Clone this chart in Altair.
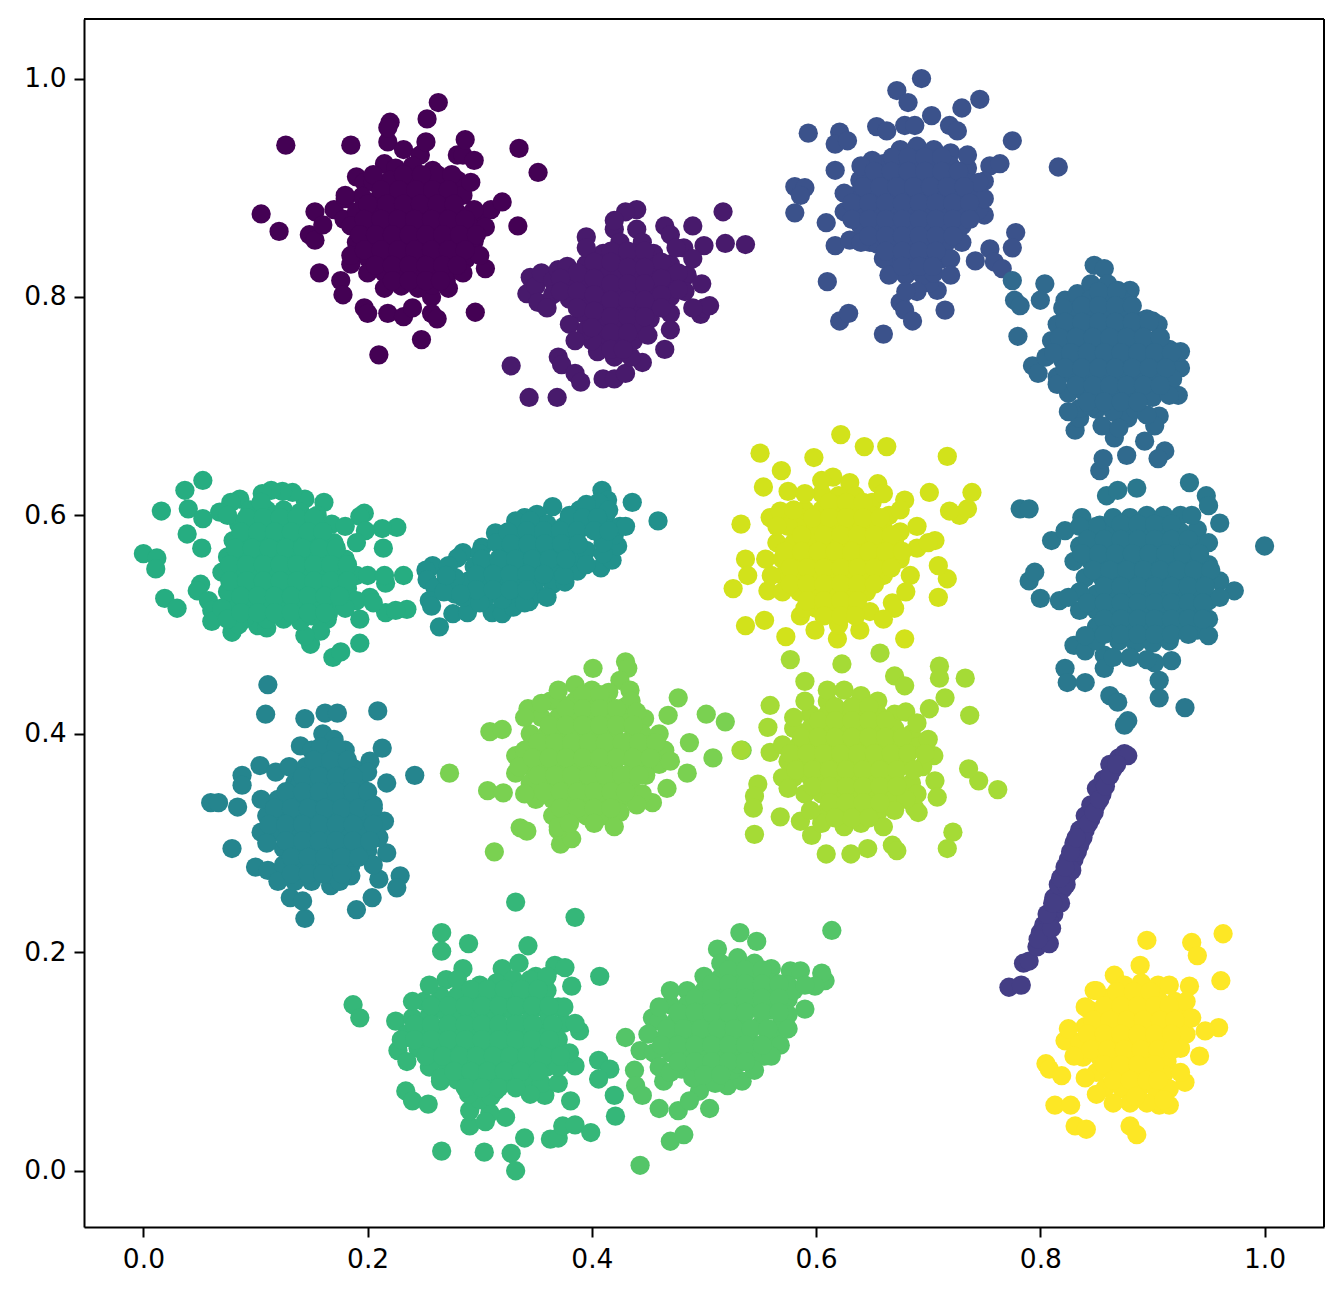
import altair as alt
import pandas as pd

# Points per cluster, in thousandths of the axis unit (x, y).
C0 = [(127,939),(185,939),(210,747),(105,876),(121,860),(148,857),(153,852),(153,878),(160,866),(157,822),(170,880),(176,815),(178,802),(179,871),(180,890),(185,830),(190,910),(197,905),(200,840),(197,790),(200,785),(215,922),(218,942),(218,785),(220,960),(218,955),(232,935),(232,782),(240,790),(247,930),(248,761),(252,942),(253,963),(263,978),(257,800),(257,785),(262,780),(270,815),(280,930),(285,930),(287,944),(295,925),(296,786),(300,870),(305,826),(310,880),(320,887),(335,936),(334,865),(352,914),
(225,918),(240,920),(258,916),(205,905),(220,907),(236,903),(250,906),(265,904),(280,907),(195,892),(210,890),(225,893),(240,890),(255,892),(270,890),(285,893),(190,878),(205,880),(220,877),(235,879),(250,876),(265,879),(280,877),(295,880),(185,865),(200,866),(215,864),(230,866),(245,864),(260,866),(275,863),(290,866),(305,864),(190,850),(205,852),(220,849),(235,851),(250,850),(265,852),(280,849),(295,851),(200,836),(215,838),(230,835),(245,837),(260,836),(275,838),(288,835),(215,822),(230,824),(245,821),(260,823),(272,822),(230,810),(245,808),(258,811),
(205,912),(262,912),(275,912),(200,822),(285,822),(215,808),(272,808),(180,893),(185,838),(300,838),(292,905)]
C1 = [(328,737),(344,708),(369,708),(370,745),(373,738),(385,730),(390,722),(410,725),(420,725),(430,730),(445,740),(465,752),(497,784),(500,790),(505,792),(519,849),(537,848),(500,847),(517,878),(490,865),(482,845),(465,865),(470,857),(440,880),(430,878),(420,862),(420,870),(395,855),(440,862),(345,818),(342,803),(350,810),(355,822),(352,795),
(365,815),(365,802),(370,825),(380,812),(380,798),(378,828),(395,830),(395,815),(395,800),(392,785),(410,840),(410,825),(410,810),(410,795),(410,780),(408,765),(405,750),(400,760),(425,850),(425,835),(425,820),(425,805),(425,790),(425,775),(422,760),(420,745),(435,745),(437,760),(440,775),(440,790),(440,805),(440,820),(440,835),(455,840),(455,825),(455,810),(455,795),(452,780),(470,830),(470,815),(470,800),(485,820),(483,805),(470,785),(490,790),(498,812),
(395,845),(445,850),(475,845),(360,790),(380,775),(470,770),(395,770),(450,765),(490,835),(385,760)]
C2 = [(772,168),(783,170),(785,190),(790,192),(797,205),(800,218),(808,208),(803,225),(812,235),(808,228),(815,245),(812,250),(820,258),(816,262),(825,272),(820,270),(830,285),(825,285),(835,298),(830,300),(840,312),(835,312),(845,322),(840,325),(850,335),(845,335),(855,345),(850,350),(860,360),(856,358),(865,368),(862,372),(870,378),(875,382),(878,380),
(818,245),(823,262),(828,275),(833,292),(838,305),(843,318),(848,328),(853,340),(858,352),(862,362),(868,372),(803,218),(798,212),(810,222),(806,235),(811,245),(818,268),(822,278),(827,292),(832,305)]
C3 = [(593,950),(621,951),(617,940),(628,943),(617,916),(581,901),(590,900),(586,893),(581,877),(609,868),(617,847),(610,814),(621,778),(629,785),(660,766),(675,795),(679,788),(686,778),(715,788),(708,806),(701,813),(672,989),(694,1000),(682,978),(703,966),(730,973),(746,981),(654,956),(663,952),(679,957),(688,957),(719,957),(726,952),(775,943),(816,919),(755,920),(764,922),(750,906),(750,875),(778,859),(775,845),(755,844),(742,833),(759,832),(766,826),(630,852),(639,907),(648,850),
(675,935),(690,938),(705,935),(720,932),(660,922),(675,922),(690,925),(705,922),(720,920),(735,918),(645,908),(660,908),(675,910),(690,910),(705,908),(720,906),(735,905),(635,893),(650,895),(665,893),(680,895),(695,893),(710,895),(725,892),(740,893),(625,878),(640,880),(655,878),(670,880),(685,878),(700,880),(715,878),(730,878),(745,880),(640,865),(655,863),(670,865),(685,863),(700,865),(715,863),(730,865),(655,848),(670,850),(685,848),(700,850),(715,848),(670,835),(685,835),(700,835),(712,835),(680,820),(695,820),(705,822),
(650,925),(735,930),(640,920),(750,890),(625,895),(640,850),(730,850),(660,835),(720,835),(665,820),(720,820),(655,905),(745,905),(690,805),(680,805)]
C4 = [(775,815),(777,797),(782,792),(780,764),(793,737),(798,730),(804,812),(800,797),(822,797),(833,803),(848,829),(857,826),(880,806),(869,806),(923,710),(906,691),(902,682),(911,659),(905,652),(877,655),(866,671),(853,641),(856,652),(831,678),(835,689),(878,689),(893,668),
(845,812),(860,812),(875,795),(860,798),(845,798),(830,785),(845,785),(860,785),(875,782),(890,778),(815,775),(830,770),(845,770),(860,770),(875,768),(890,765),(905,762),(810,760),(825,757),(840,755),(855,757),(870,755),(885,752),(900,750),(915,752),(805,745),(820,742),(835,742),(850,742),(865,740),(880,738),(895,738),(910,738),(925,735),(815,727),(830,727),(845,727),(860,725),(875,725),(890,723),(905,725),(918,725),(825,712),(840,712),(855,710),(870,710),(885,710),(900,708),(835,698),(850,697),(865,695),(885,697),(825,695),
(820,790),(815,720),(900,778),(895,692),(915,710),(845,700),(855,682),(870,680),(895,780),(905,775),(925,750)]
C5 = [(1000,572),(973,531),(782,606),(790,606),(790,540),(795,548),(800,524),(817,522),(810,577),(822,586),(837,598),(853,591),(859,618),(886,625),(869,623),(933,630),(948,618),(950,609),(960,593),(929,424),(906,433),(906,449),(917,467),(902,465),(862,435),(869,429),(878,412),(875,408),(822,460),(824,447),(840,447),(857,472),(857,460),(830,481),(840,476),
(880,598),(895,600),(910,600),(925,600),(865,585),(880,585),(895,587),(910,587),(925,585),(940,587),(835,572),(850,572),(865,572),(880,572),(895,573),(910,572),(925,572),(940,572),(830,558),(845,558),(860,558),(875,558),(890,558),(905,558),(920,558),(935,558),(950,555),(840,543),(855,543),(870,543),(885,543),(900,543),(915,543),(930,543),(945,543),(960,540),(850,528),(865,528),(880,528),(895,528),(910,528),(925,528),(940,528),(950,522),(835,513),(850,513),(865,513),(880,513),(895,513),(910,513),(925,513),(940,513),(950,505),(850,498),(865,498),(880,498),(895,498),(910,498),(925,498),(940,495),(850,485),(870,485),(885,483),(900,483),(915,485),(895,468),
(850,590),(865,598),(935,600),(950,575),(960,525),(835,530),(825,525),(840,490),(950,490),(865,470),(880,470),(835,590)]
C6 = [(111,445),(109,418),(144,414),(162,419),(173,419),(209,421),(213,387),(202,375),(217,355),(242,362),(60,337),(67,337),(84,333),(88,362),(88,353),(104,371),(79,295),(100,278),(111,275),(229,270),(217,291),(226,259),(210,267),(204,250),(190,239),(144,231),(131,250),(142,247),(167,261),(140,389),(118,365),(130,370),
(160,400),(170,395),(150,385),(165,382),(180,385),(145,370),(160,368),(175,370),(188,368),(135,355),(150,353),(165,355),(180,353),(195,350),(120,340),(135,340),(150,340),(165,340),(180,340),(195,338),(205,335),(110,325),(125,325),(140,325),(155,325),(170,325),(185,325),(200,322),(215,320),(105,310),(120,310),(135,310),(150,310),(165,310),(180,310),(195,308),(210,305),(125,295),(140,295),(155,295),(170,295),(185,295),(200,293),(125,280),(140,280),(155,280),(170,280),(185,280),(135,265),(150,265),(165,272),
(130,340),(110,300),(120,265),(205,280),(190,360),(200,365),(140,355),(105,340),(185,270),(175,265)]
C7 = [(459,595),(436,612),(409,623),(264,498),(258,554),(252,550),(253,541),(260,534),(255,522),(257,517),(276,510),(289,511),(311,511),(320,510),(330,516),(344,521),(351,528),(365,537),(376,539),(387,549),(408,552),(418,559),(423,572),(414,614),(406,612),(389,605),(365,608),(351,601),(340,598),(332,595),(314,584),(302,571),(285,566),(280,561),(272,554),
(290,525),(305,525),(320,523),(335,530),(290,540),(305,540),(320,538),(335,543),(350,540),(295,553),(310,553),(325,552),(340,555),(355,553),(370,550),(322,566),(337,568),(352,567),(367,563),(382,562),(335,580),(350,580),(365,577),(380,575),(395,568),(410,565),(360,592),(375,590),(390,588),(405,585),(420,582),(398,598),(412,598),(278,528),(278,543),(425,590),
(285,525),(268,530),(270,545),(300,520),(340,520),(300,565),(315,575),(325,585),(345,595),(360,525),(375,545),(395,555),(410,575),(395,610),(380,600),(415,605),(430,590)]
C8 = [(53,632),(37,623),(16,604),(40,606),(53,597),(39,583),(52,570),(0,565),(12,561),(11,551),(51,537),(48,531),(19,524),(30,515),(58,522),(61,513),(61,503),(79,493),(102,499),(110,497),(149,482),(169,470),(176,475),(193,483),(193,505),(216,511),(235,514),(232,545),(216,538),(214,570),(226,589),(213,588),(197,602),(193,599),(198,586),(168,592),(161,612),(144,615),(133,621),(124,622),(114,623),(106,620),(86,615),(78,612),(68,603),(202,525),(225,513),(164,505),(158,494),(144,490),
(95,605),(110,605),(125,605),(140,603),(85,592),(100,592),(115,592),(130,592),(145,590),(80,577),(95,577),(110,577),(125,577),(140,577),(155,577),(170,575),(75,562),(90,562),(105,562),(120,562),(135,562),(150,562),(165,562),(180,560),(70,548),(85,548),(100,548),(115,548),(130,548),(145,548),(160,548),(175,548),(190,545),(80,533),(95,533),(110,533),(125,533),(140,533),(155,533),(170,533),(182,533),(80,518),(95,518),(110,518),(125,518),(140,518),(155,518),(170,520),(190,522),(205,520),(90,505),(110,505),(125,505),(140,503),(150,508),
(75,600),(75,530),(70,515),(105,612),(155,600),(180,590),(190,575),(200,545),(215,545),(180,515),(165,510),(85,500),(75,505)]
C9 = [(332,246),(385,232),(266,218),(266,201),(290,208),(187,152),(193,140),(266,18),(304,17),(328,16),(332,0),(340,30),(363,29),(370,30),(374,41),(385,42),(399,35),(323,49),(309,53),(291,41),(234,73),(240,64),(254,61),(227,110),(225,137),(407,178),(382,169),(343,206),(367,188),(376,186),(406,101),(416,93),(406,84),(420,69),(421,50),(381,64),(358,69),(314,73),(265,82),(291,55),(389,128),(385,96),
(270,175),(285,185),(320,185),(335,190),(350,178),(300,170),(315,172),(330,175),(345,165),(360,165),(250,155),(265,160),(280,160),(295,157),(310,157),(325,160),(340,152),(355,150),(370,150),(240,140),(255,142),(270,145),(285,143),(300,143),(315,143),(330,145),(345,138),(360,136),(375,135),(235,125),(250,127),(265,128),(280,128),(295,128),(310,128),(325,128),(340,123),(355,122),(370,120),(245,112),(260,112),(275,113),(290,113),(305,113),(320,113),(335,110),(350,108),(365,108),(380,108),(270,98),(285,98),(300,98),(315,98),(330,95),(345,93),(360,95),(280,83),(295,84),(310,84),(325,82),(340,80),(355,80),(300,65),(305,45),(345,70),(370,80),
(240,155),(255,170),(230,120),(235,100),(255,95),(265,85),(375,150),(385,135),(370,95),(290,70),(310,68),(345,175),(360,178),(280,175)]
C10 = [(614,220),(608,174),(605,181),(532,218),(547,210),(512,203),(430,122),(443,5),(470,27),(482,33),(460,57),(464,82),(477,55),(505,57),(438,92),(439,78),(445,69),(443,110),(454,140),(521,78),(534,82),(496,73),(487,64),(590,148),(577,183),(586,183),(599,169),(554,105),
(515,190),(530,195),(545,190),(560,185),(500,178),(515,177),(530,180),(545,177),(560,172),(575,170),(485,165),(500,165),(515,165),(530,165),(545,163),(560,160),(575,157),(470,152),(485,152),(500,152),(515,150),(530,150),(545,150),(560,147),(575,143),(460,137),(475,137),(490,137),(505,137),(520,137),(535,135),(550,133),(565,130),(465,122),(480,122),(495,122),(510,122),(525,122),(540,120),(555,118),(568,115),(455,108),(470,108),(485,108),(500,108),(515,107),(530,105),(545,105),(480,93),(495,93),(510,93),(525,92),(530,98),(490,85),
(470,165),(460,150),(450,125),(460,95),(470,90),(575,130),(580,165),(590,170),(560,105),(545,92),(510,80)]
C11 = [(273,364),(313,292),(307,348),(321,346),(309,402),(320,404),(332,380),(332,364),(336,314),(342,311),(372,299),(382,304),(430,466),(432,460),(401,460),(477,433),(519,411),(502,418),(534,385),(508,378),(485,364),(467,350),(454,337),(487,392),(468,417),(447,414),(363,430),(343,423),(425,449),(434,440),
(385,445),(400,440),(415,438),(370,430),(385,430),(400,427),(415,425),(430,425),(355,415),(370,415),(385,415),(400,413),(415,412),(430,410),(445,400),(345,400),(360,400),(375,400),(390,400),(405,398),(420,398),(435,395),(450,390),(465,385),(340,385),(355,385),(370,385),(385,385),(400,383),(415,383),(430,380),(445,378),(460,372),(345,370),(360,370),(375,370),(390,368),(405,368),(420,368),(435,365),(448,362),(345,355),(360,355),(375,355),(390,353),(405,353),(420,353),(435,350),(350,340),(365,340),(380,338),(395,338),(410,338),(425,338),(365,325),(380,322),(395,325),(410,325),(425,328),(370,312),
(370,440),(355,428),(435,430),(440,420),(460,400),(340,415),(335,370),(340,345),(445,345),(440,335),(370,315),(420,315),(470,375)]
C12 = [(762,349),(745,357),(722,310),(717,295),(736,368),(737,417),(733,451),(710,462),(710,451),(715,433),(701,423),(623,464),(657,474),(577,468),(590,448),(559,426),(557,406),(533,385),(559,383),(548,354),(545,343),(544,332),(545,308),(568,324),(586,320),(596,307),(609,290),(631,290),(646,295),(668,298),(672,293),(688,332),(691,328),(670,453),(679,444),(706,357),(708,342),
(610,430),(625,440),(640,435),(655,430),(595,418),(610,418),(625,420),(640,420),(655,418),(670,418),(580,405),(595,405),(610,405),(625,405),(640,405),(655,405),(670,405),(685,400),(570,390),(585,390),(600,390),(615,390),(630,390),(645,390),(660,390),(675,390),(690,388),(705,380),(575,375),(590,375),(605,375),(620,375),(635,375),(650,375),(665,375),(680,375),(695,370),(580,360),(595,360),(610,360),(625,360),(640,360),(655,360),(670,360),(685,355),(590,345),(605,345),(620,345),(635,345),(650,345),(665,342),(610,330),(625,332),(640,330),(655,328),(625,315),(640,318),(605,318),
(590,430),(580,415),(610,440),(680,420),(690,410),(700,395),(570,360),(575,350),(690,345),(680,340),(595,330),(670,330),(660,315)]
C13 = [(550,657),(569,641),(598,653),(622,674),(643,663),(663,663),(717,654),(655,629),(739,621),(701,621),(679,614),(553,626),(575,622),(533,592),(559,598),(568,604),(586,590),(537,560),(526,533),(539,545),(557,531),(537,499),(554,504),(573,489),(586,508),(599,495),(619,487),(639,495),(679,487),(709,525),(717,542),(709,554),(706,577),(728,600),(735,606),(719,604),(684,545),(668,520),
(615,635),(630,630),(605,620),(620,618),(635,618),(650,612),(590,605),(605,605),(620,605),(635,603),(650,600),(665,600),(575,590),(600,590),(615,590),(630,590),(645,588),(660,588),(675,585),(565,575),(580,575),(595,575),(610,575),(625,575),(640,575),(655,575),(670,575),(690,570),(555,560),(570,560),(585,560),(600,560),(615,560),(630,560),(645,560),(660,560),(675,560),(570,545),(585,545),(600,545),(615,545),(630,545),(645,545),(660,545),(585,530),(600,530),(615,530),(630,530),(645,530),(600,515),(615,515),(630,515),(648,512),(620,500),
(590,620),(580,605),(565,590),(605,632),(660,620),(675,605),(690,590),(700,575),(560,545),(570,530),(680,530),(670,515),(590,515),(660,505)]
C14 = [(963,217),(961,174),(959,131),(895,211),(935,209),(940,197),(805,98),(808,93),(813,60),(827,60),(831,41),(841,38),(880,41),(886,33),(822,119),(819,87),(906,60),(915,60),(929,81),(942,105),(947,128),(933,169),(889,188),(866,179),(848,165),(844,147),
(875,170),(890,172),(905,170),(860,158),(875,158),(890,158),(905,157),(920,155),(850,145),(865,145),(880,145),(895,145),(910,143),(925,140),(840,132),(855,132),(870,132),(885,132),(900,130),(915,128),(930,125),(835,118),(850,118),(865,118),(880,118),(895,117),(910,115),(925,112),(838,104),(853,104),(868,104),(883,104),(898,102),(913,100),(850,90),(865,90),(880,90),(895,90),(910,88),(858,76),(873,75),(888,75),(903,75),(880,62),(895,62),
(850,165),(840,150),(915,170),(930,155),(825,130),(830,105),(935,140),(840,85),(925,90),(850,70),(915,75),(865,62),(910,65)]

# Further points of the dense cores, row by row: y -> x values.
F0 = {912:[232,248],898:[212,228,243,258,272],885:[200,217,232,247,262,277],871:[197,212,227,242,257,272,287],857:[193,207,222,237,252,267,282,297],843:[197,212,227,242,257,272,287],829:[207,222,237,252,267,280],815:[222,237,252,265]}
F1 = {842:[417,432,447],832:[402,417,462],827:[432,447],822:[387,477],817:[372,402,462],812:[417,432,447],807:[477],805:[372,387],802:[402,462],797:[417,432,447],790:[387,462],787:[402],782:[417,432,447],772:[400],767:[417,432],752:[417,428]}
F3 = {928:[668,682,697,712],915:[652,667,682,697,712,727],901:[642,657,672,687,702,717,732],886:[632,647,662,677,692,707,722,737],871:[632,647,662,677,692,707,722,737],856:[647,662,677,692,707,722],842:[662,677,692,707],828:[677,692,704]}
F4 = {805:[852,868],792:[837,852,867,882],777:[822,837,852,867,882,897],763:[817,832,847,862,877,892,907],749:[812,827,842,857,872,887,902,917],735:[822,837,852,867,882,897,912],719:[832,847,862,877,892,907],704:[842,857,872,887]}
F5 = {592:[872,887,902,917],578:[842,857,872,887,902,917,932],565:[837,852,867,882,897,912,927,942],550:[847,862,877,892,907,922,937,952],535:[857,872,887,902,917,932,947],520:[842,857,872,887,902,917,932,945],505:[857,872,887,902,917,932,945],491:[857,872,887,902,917,932]}
F6 = {388:[158,172],376:[152,167,182],361:[142,157,172,187],347:[127,142,157,172,187,200],332:[117,132,147,162,177,192,205],317:[112,127,142,157,172,187,205],302:[127,142,157,172,187,202],287:[132,147,162,177,192],272:[132,147,160,177]}
F7 = {598:[380,392,405],586:[342,357,372,387,402,415],574:[328,343,358,373,388],560:[302,317,332,347,362,377],546:[297,312,327,342,357],532:[297,312,327,342],528:[283]}
F8 = {598:[92,107,122,137,152],585:[87,102,117,132,147,160],570:[82,97,112,127,142,157,172],555:[77,92,107,122,137,152,167,182],540:[77,92,107,122,137,152,167,182],526:[87,102,117,132,147,162,175],511:[87,102,117,132,147,162]}
F9 = {166:[292,307,322,337,352],151:[257,272,287,302,317,332,347,362],134:[242,257,272,287,302,317,332,347,365],120:[242,257,272,287,302,317,332,347,362],105:[252,267,282,297,312,327,342,357,372],91:[277,292,307,322,337,352],76:[287,302,317,332]}
F10 = {184:[522,537,552],171:[507,522,537,552,567],158:[492,507,522,537,552,567],145:[477,492,507,522,537,552,567],130:[467,482,497,512,527,542,557],115:[462,477,492,507,522,537,552],100:[477,492,507,522,537],88:[500,515]}
F11 = {436:[392,407],423:[377,392,407,422],408:[362,377,392,407,422,437],392:[352,367,382,397,412,427,442,457],378:[347,362,377,392,407,422,437,452],362:[352,367,382,397,412,427,442],347:[357,372,387,402,417,430],332:[372,387,402,417],318:[380,402]}
F12 = {425:[617,632,647],412:[602,617,632,647,662],397:[587,602,617,632,647,662,677],382:[577,592,607,622,637,652,667,682,697],367:[582,597,612,627,642,657,672,687],352:[597,612,627,642,657,672],337:[612,627,642,657],323:[617,632,647]}
F13 = {612:[612,627,642],598:[597,612,627,642,657],582:[587,607,622,637,652,667],567:[572,587,602,617,632,647,662,677],552:[577,592,607,622,637,652,667],537:[577,592,607,622,637,652],522:[592,607,622,637],508:[607,622,635]}
F14 = {164:[868,883,898],151:[857,872,887,902,915],138:[847,862,877,892,907,920],125:[842,857,872,887,902,917],111:[845,860,875,890,905,918],97:[857,872,887,902],83:[865,880,895,905],68:[885]}

CLUSTERS = [C0, C1, C2, C3, C4, C5, C6, C7, C8, C9, C10, C11, C12, C13, C14]
CORES = [F0, F1, {}, F3, F4, F5, F6, F7, F8, F9, F10, F11, F12, F13, F14]
COLORS = ["#440154", "#481a6c", "#443e85", "#3b528b", "#306a8e", "#2a788e", "#25858e", "#21918c", "#26ad81",
          "#35b779", "#54c568", "#7ad151", "#a5db36", "#d2e21b", "#fde725"]
TICKS = [0.0, 0.2, 0.4, 0.6, 0.8, 1.0]

rows = [{"x": px / 1000, "y": py / 1000, "cluster": i}
        for i, pts in enumerate(CLUSTERS) for px, py in pts]
rows += [{"x": px / 1000, "y": py / 1000, "cluster": i}
         for i, core in enumerate(CORES) for py, xs in core.items() for px in xs]
df = pd.DataFrame(rows)

axis = dict(values=TICKS, format=".1f", grid=False, title=None, tickSize=10, tickWidth=2, tickColor="black",
            domainWidth=2, domainColor="black", labelFontSize=26.5, labelFont="DejaVu Sans", labelColor="black")
X_DOMAIN = [-0.053, 1.053]
Y_DOMAIN = [-0.0515, 1.0545]

points = (
    alt.Chart(df)
    .mark_circle(size=372, opacity=1)
    .encode(
        x=alt.X("x:Q", scale=alt.Scale(domain=X_DOMAIN, nice=False, zero=False), axis=alt.Axis(labelPadding=9, **axis)),
        y=alt.Y("y:Q", scale=alt.Scale(domain=Y_DOMAIN, nice=False, zero=False), axis=alt.Axis(labelPadding=8, **axis)),
        color=alt.Color("cluster:O", scale=alt.Scale(domain=list(range(15)), range=COLORS), legend=None),
        order=alt.Order("cluster:Q"),
    )
)
top = alt.Chart(df).mark_rule(color="black", strokeWidth=2).encode(x=alt.value(0), x2=alt.value(1240), y=alt.value(0))
right = alt.Chart(df).mark_rule(color="black", strokeWidth=2).encode(x=alt.value(1240), y=alt.value(0), y2=alt.value(1208))

chart = (
    alt.layer(points, top, right)
    .properties(width=1240, height=1208, autosize=alt.AutoSizeParams(type="none"),
                padding={"left": 76, "top": 11, "right": 11, "bottom": 60})
    .configure_view(stroke=None)
    .configure(background="white")
)

chart.save("out.html", embed_options={"renderer": "svg", "actions": False})
